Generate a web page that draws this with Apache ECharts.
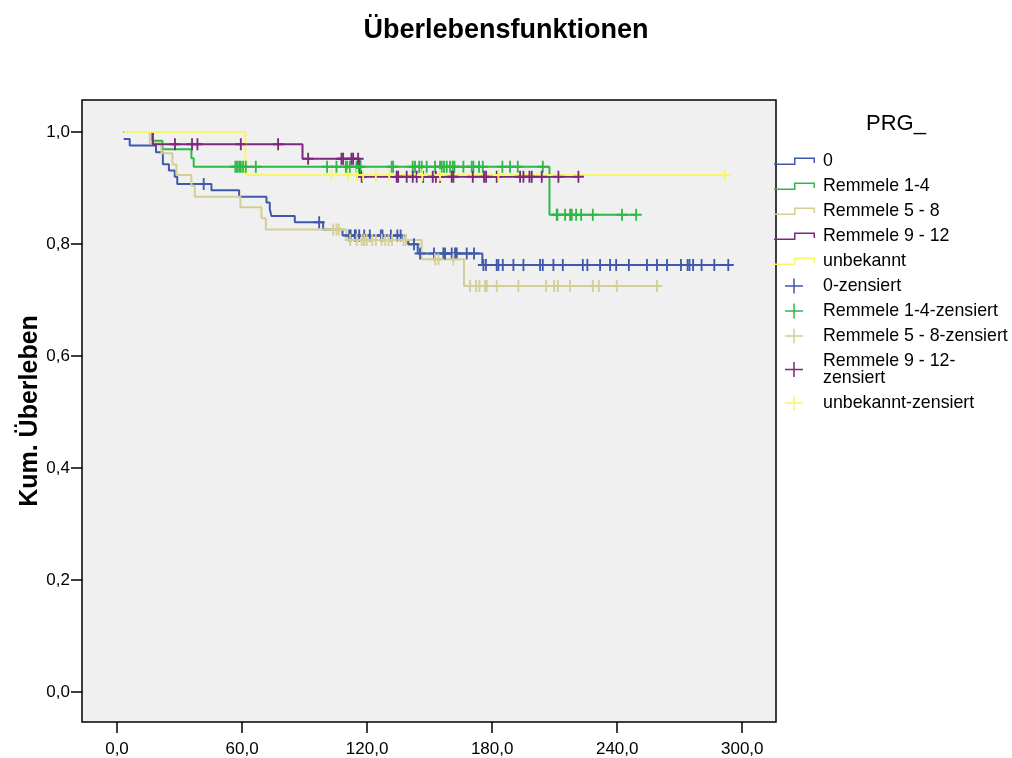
<!DOCTYPE html>
<html><head><meta charset="utf-8">
<script src="https://cdn.jsdelivr.net/npm/echarts@6/dist/echarts.min.js"></script>
<style>html,body{margin:0;padding:0;background:#fff}#c{width:1012px;height:758px}</style>
</head><body><div id="c"></div>
<script>
// ---------- data ----------
const groupNames = ['0', 'Remmele 1-4', 'Remmele 5 - 8', 'Remmele 9 - 12', 'unbekannt'];
const groupColors = ['#3E58AC', '#2EB848', '#D3CE97', '#7C287D', '#F8F56A'];

// Kaplan-Meier steps: [time, survival after that time]
const steps0 = [[3.2,0.9875],[6.1,0.976],[18.7,0.964],[22.0,0.9423],[24.9,0.931],[27.7,0.920],[28.9,0.907],[45.3,0.896],[58.6,0.8845],[71.7,0.874],[73.3,0.862],[74.1,0.850],[85.3,0.8387],[98.9,0.826],[108.2,0.815],[137.3,0.807],[139.7,0.7995],[144.3,0.783],[175.3,0.7625],[293.3,0.7625]];
const steps1 = [[3.2,1.0],[16.9,0.9845],[21.8,0.969],[35.7,0.953],[36.8,0.938],[207.5,0.852],[249.1,0.852]];
const steps2 = [[3.2,1.0],[15.7,0.980],[21.3,0.962],[26.6,0.942],[28.5,0.923],[35.7,0.904],[37.3,0.8845],[59.2,0.8655],[69.3,0.846],[71.4,0.826],[110.0,0.807],[146.2,0.7727],[166.5,0.725],[259.1,0.725]];
const steps3 = [[3.2,1.0],[17.2,0.978],[89.0,0.952],[116.5,0.920],[221.4,0.920]];
const steps4 = [[3.2,1.0],[61.6,0.923],[291.6,0.923]];

// censored times
const cens0 = [41.6,97.0,111.4,112.1,114.1,114.6,116.2,118.6,121.3,126.6,127.4,131.4,134.5,136.1,142.5,145.4,152.1,156.6,157.4,160.6,162.2,163.0,167.8,171.3,175.8,177.0,182.2,183.0,185.1,190.2,195.0,203.0,204.3,209.4,213.9,223.5,225.7,231.8,236.6,239.5,245.6,254.3,259.1,263.9,270.6,273.8,274.7,276.4,280.5,286.6,293.3];
const cens1 = [56.8,57.6,58.6,59.4,60.5,61.8,66.6,100.8,105.3,109.8,110.4,111.7,114.9,115.7,116.9,131.8,132.5,141.9,143.0,145.0,146.2,148.6,152.6,155.0,155.8,156.9,158.2,159.8,161.1,161.9,166.2,170.2,171.0,173.7,175.5,184.9,188.6,192.3,204.3,211.0,211.3,215.0,217.4,218.2,220.3,222.7,228.3,242.3,249.1];
const cens2 = [103.7,105.3,106.4,111.9,115.0,117.4,118.6,119.8,122.5,124.2,127.0,128.7,130.3,132.0,137.5,138.6,152.6,154.2,161.4,169.4,172.3,173.9,176.6,177.4,182.2,192.6,205.9,209.7,211.5,217.4,228.3,231.2,239.8,259.1];
const cens3 = [27.8,36.0,38.6,59.4,77.3,91.7,107.7,108.5,112.5,113.3,115.7,117.4,134.2,134.9,139.0,141.9,143.8,146.9,151.5,153.0,155.0,160.6,161.4,170.7,176.1,177.1,182.2,193.4,195.0,197.9,199.0,203.8,211.8,221.4];
const cens4 = [102.9,110.9,115.2,118.1,124.2,130.6,146.5,155.0,183.0,291.6];

const xTicks = [0, 60, 120, 180, 240, 300];
const yTicks = [0, 0.2, 0.4, 0.6, 0.8, 1.0];

// ---------- chart ----------
const FONT = '"Liberation Sans", Arial, sans-serif';
const allSteps = [steps0, steps1, steps2, steps3, steps4];
const allCens = [cens0, cens1, cens2, cens3, cens4];

function survAt(steps, t) {
  let s = steps[0][1];
  for (const p of steps) { if (p[0] <= t) s = p[1]; }
  return s;
}

const CROSS = 'path://M5,0 L7,0 L7,5 L12,5 L12,7 L7,7 L7,12 L5,12 L5,7 L0,7 L0,5 L5,5 Z';
const SPECKS = 'M0,0 L0.02,0 L0.02,0.02 Z M44,16 L43.98,16 L43.98,15.98 Z ';
const ICON_STEP = 'path://' + SPECKS + 'M0,10.5 L20,10.5 L20,4.5 L41,4.5 L41,10 L39.5,10 L39.5,6 L21.5,6 L21.5,12 L0,12 Z';
const ICON_CROSS = 'path://' + SPECKS + 'M19.25,0.5 L20.75,0.5 L20.75,7.25 L29,7.25 L29,8.75 L20.75,8.75 L20.75,15.5 L19.25,15.5 L19.25,8.75 L11,8.75 L11,7.25 L19.25,7.25 Z';

const series = [];
const legendData = [];
groupNames.forEach((n, i) => {
  series.push({
    name: n, type: 'line', step: 'end', symbol: 'none',
    data: allSteps[i],
    lineStyle: { color: groupColors[i], width: 2 },
    itemStyle: { color: groupColors[i] },
    silent: true, z: 2 + i * 0.01
  });
  legendData.push({ name: n, icon: ICON_STEP });
});
groupNames.forEach((n, i) => {
  const nm = n + '-zensiert';
  series.push({
    name: nm, type: 'scatter', symbol: CROSS, symbolSize: [11, 12],
    data: allCens[i].map(t => [t, survAt(allSteps[i], t)]),
    itemStyle: { color: groupColors[i], opacity: 1 },
    silent: true, z: 3 + i * 0.01
  });
  legendData.push({ name: nm, icon: ICON_CROSS });
});

const fmt = v => v.toFixed(1).replace('.', ',');

const option = {
  animation: false,
  backgroundColor: '#ffffff',
  title: [
    { text: 'Überlebensfunktionen', left: 'center', top: 17, padding: 0,
      textStyle: { fontSize: 27, fontWeight: 'bold', color: '#000', fontFamily: FONT } },
    { text: 'PRG_', left: 866, top: 113, padding: 0,
      textStyle: { fontSize: 22, fontWeight: 'normal', color: '#000', fontFamily: FONT } }
  ],
  legend: {
    orient: 'vertical', left: 774, top: 152, padding: 0,
    itemWidth: 44, itemHeight: 16, itemGap: 7,
    selectedMode: false,
    data: legendData,
    itemStyle: { borderWidth: 0 },
    textStyle: { fontSize: 17.8, color: '#000', fontFamily: FONT, lineHeight: 17, padding: [0, 0, 0, 0] },
    formatter: name => name === 'Remmele 9 - 12-zensiert' ? 'Remmele 9 - 12-\nzensiert' : name
  },
  grid: {
    left: 82, top: 100, right: 236, bottom: 36,
    show: true, backgroundColor: '#F0F0F0', borderColor: '#000', borderWidth: 1.5,
    containLabel: false, outerBoundsMode: 'none'
  },
  xAxis: {
    type: 'value', min: -16.8, max: 316.2,
    axisLine: { show: false, onZero: false },
    splitLine: { show: false },
    axisTick: { show: true, customValues: xTicks, length: 11, lineStyle: { color: '#000', width: 1.5 } },
    axisLabel: { customValues: xTicks, formatter: fmt, margin: 19, fontSize: 17, color: '#000', fontFamily: FONT }
  },
  yAxis: {
    type: 'value', min: -0.0536, max: 1.0571,
    name: 'Kum. Überleben', nameLocation: 'middle', nameGap: 39, nameMoveOverlap: false,
    nameTextStyle: { fontSize: 25, fontWeight: 'bold', color: '#000', fontFamily: FONT },
    axisLine: { show: false, onZero: false },
    splitLine: { show: false },
    axisTick: { show: true, customValues: yTicks, length: 11, lineStyle: { color: '#000', width: 1.5 } },
    axisLabel: { customValues: yTicks, formatter: fmt, margin: 12, fontSize: 17, color: '#000', fontFamily: FONT }
  },
  series: series
};

const chart = echarts.init(document.getElementById('c'), null, { renderer: 'canvas' });
chart.setOption(option);
</script>
</body></html>
